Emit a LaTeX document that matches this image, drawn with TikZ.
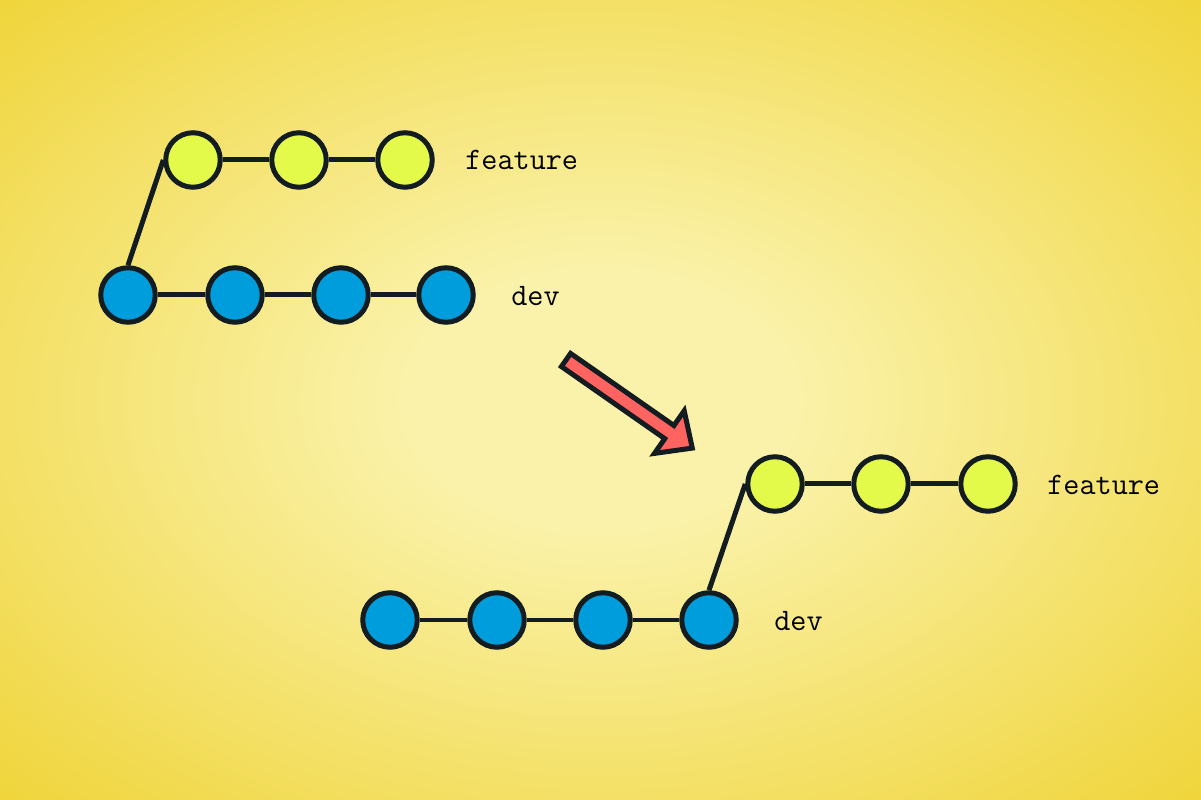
\documentclass[tikz,border=0pt]{standalone}
\usepackage{xcolor}
\definecolor{bgpale}{RGB}{250,242,170}
\definecolor{bgdeep}{RGB}{239,211,52}
\definecolor{inkdark}{RGB}{19,28,33}
\definecolor{devblue}{RGB}{0,157,220}
\definecolor{featlime}{RGB}{227,250,75}
\definecolor{arrowred}{RGB}{255,100,97}
\pgfdeclareradialshading{bgglow}{\pgfpoint{0bp}{0bp}}{color(0bp)=(bgpale); color(8bp)=(bgpale); color(37bp)=(bgdeep); color(75bp)=(bgdeep)}

\tikzset{
  commit/.style={draw=inkdark, circle, line width=0.1cm, minimum size=1.09cm, inner sep=0pt},
  devc/.style={commit, fill=devblue},
  featc/.style={commit, fill=featlime},
  branch/.style={font=\ttfamily\fontsize{17.8}{20}\selectfont, anchor=west, inner sep=0pt},
  link/.style={draw=inkdark, line width=0.1cm},
}

\begin{document}
\begin{tikzpicture}[x=0.02cm, y=-0.02cm]
\useasboundingbox (0,0) rectangle (1201,800);
\shade[shading=bgglow] (0,0) rectangle (1201,800);

% before
\node[featc] (f1) at (193,160) {};
\node[featc] (f2) at (299,160) {};
\node[featc] (f3) at (405,160) {};
\node[devc] (d1) at (128,295) {};
\node[devc] (d2) at (235,295) {};
\node[devc] (d3) at (341,295) {};
\node[devc] (d4) at (446,295) {};
\node[branch] (fname) at (465,160) {feature};
\node[branch] (dname) at (511,296) {dev};

\draw[link] (f1) -- (f2);
\draw[link] (f2) -- (f3);
\draw[link] (d1) -- (d2);
\draw[link] (d2) -- (d3);
\draw[link] (d3) -- (d4);
\draw[link] (d1.north) -- (f1.west);

% after
\node[featc] (g1) at (775,484) {};
\node[featc] (g2) at (881,484) {};
\node[featc] (g3) at (988,484) {};
\node[devc] (e1) at (390,620) {};
\node[devc] (e2) at (497,620) {};
\node[devc] (e3) at (603,620) {};
\node[devc] (e4) at (709,620) {};
\node[branch] (gname) at (1047,485) {feature};
\node[branch] (ename) at (774,621) {dev};

\draw[link] (g1) -- (g2);
\draw[link] (g2) -- (g3);
\draw[link] (e1) -- (e2);
\draw[link] (e2) -- (e3);
\draw[link] (e3) -- (e4);
\draw[link] (e4.north) -- (g1.west);

\begin{scope}[shift={(566,360)}, rotate=-34.9]
\draw[link, fill=arrowred] (0,-8) -- (126,-8) -- (126,-26) -- (154,0) -- (126,26) -- (126,8) -- (0,8) -- cycle;
\end{scope}
\end{tikzpicture}
\end{document}
